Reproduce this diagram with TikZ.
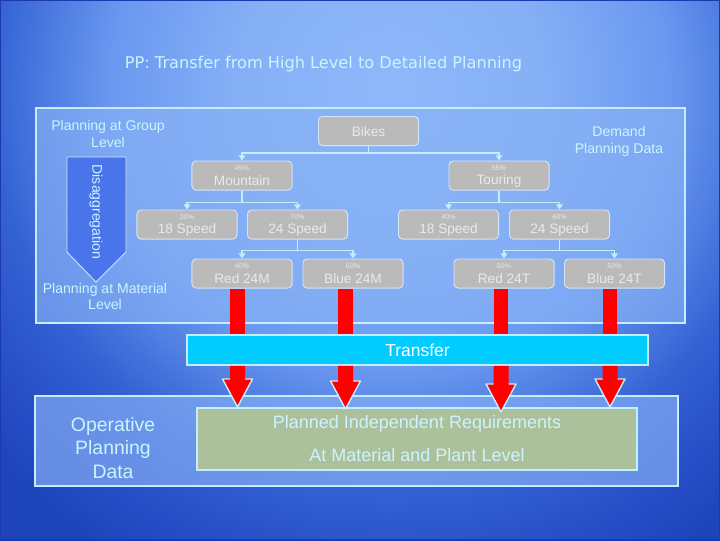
\documentclass[tikz,border=0pt]{standalone}
\usepackage{fontspec}
\setmainfont{Liberation Sans}
\newfontfamily\titlefont{DejaVu Sans}
\usepackage{xcolor}
\usepackage{tikz}
\usetikzlibrary{positioning,calc,arrows.meta}
\definecolor{bgcore}{HTML}{8EB8FA}
\definecolor{bgmid}{HTML}{86B0F6}
\definecolor{bglight}{HTML}{6A98F0}
\definecolor{bglow}{HTML}{3462D4}
\definecolor{bgdeep}{HTML}{2850C8}
\definecolor{bgedge}{HTML}{1E44BC}
\definecolor{slideedge}{HTML}{1A3AAE}
\definecolor{framefill}{HTML}{88B2F6}
\definecolor{framecyan}{HTML}{C4EEFF}
\definecolor{labelcyan}{HTML}{CCF4FF}
\definecolor{boxgray}{HTML}{BABABA}
\definecolor{boxline}{HTML}{D4E6F6}
\definecolor{boxtext}{HTML}{EAEAEA}
\definecolor{disaggblue}{HTML}{4A74EA}
\definecolor{transfercyan}{HTML}{00CCFF}
\definecolor{reqgreen}{HTML}{ADC09C}
\pgfdeclareradialshading{bgglow}{\pgfpoint{0bp}{0bp}}{color(0bp)=(bgcore); color(12.5bp)=(bgmid);
  color(23.3bp)=(bglight); color(33.3bp)=(bglow); color(39.2bp)=(bgdeep); color(45bp)=(bgedge); color(50bp)=(bgedge)}

\begin{document}
\begin{tikzpicture}[
  x=0.025cm, y=-0.025cm,
  frame/.style={draw=framecyan, line width=2.1pt, fill=framefill, fill opacity=0.65},
  partbox/.style={draw=boxline, fill=boxgray, line width=0.7pt, rounded corners=2.8pt,
    minimum width=2.5cm, minimum height=0.725cm, inner sep=0pt},
  pcttext/.style={font=\fontsize{5}{6}\selectfont, text=boxtext, inner sep=0pt},
  parttext/.style={font=\fontsize{9.7}{11}\selectfont, text=boxtext, inner sep=0pt},
  sidetext/.style={font=\fontsize{10}{12}\selectfont, text=labelcyan, align=center},
  link/.style={draw=framecyan, line width=1.4pt, -{Triangle[width=4.6pt,length=3.6pt]}},
  redbar/.style={draw=red, line width=10pt},
  headline/.style={draw=framecyan, line width=1pt, line join=round},
]
\useasboundingbox (0,0) rectangle (720,540);
\begin{scope}
  \clip (0,0) rectangle (720,540);
  \fill[bgedge] (0,0) rectangle (720,540);
  \node[inner sep=0pt, scale=8.5] (glow) at (390,90) {\pgfuseshading{bgglow}};
  \draw[slideedge, line width=1.4pt] (0,0) rectangle (720,540);
\end{scope}

\node[font=\titlefont\fontsize{11.5}{13}\selectfont, text=labelcyan] (title) at (323.5,64)
  {PP: Transfer from High Level to Detailed Planning};

% demand planning frame
\draw[frame] (36,108) rectangle (685,323);
\node[sidetext] (grouplvl) at (108,134) {Planning at Group\\Level};
\node[sidetext] (demand) at (619,141.5) {Demand\\Planning Data};
\node[sidetext] (materiallvl) at (105,296.5) {Planning at Material\\Level};
\draw[draw=boxline, fill=disaggblue, line width=0.6pt]
  (67,157) -- (126,157) -- (126,252) -- (96,282) -- (67,252) -- cycle;
\node[sidetext, rotate=-90] (disagg) at (96,212) {Disaggregation};

% product tree
\node[partbox] (bikes) at (368.5,131) {};
\node[parttext] (bikes-txt) at (368.5,132) {Bikes};
\foreach \nm/\cx/\ty/\pc/\lb in {%
  mountain/242/161/45\%/Mountain, touring/499/161/55\%/Touring,
  m18/187/210/30\%/18 Speed, m24/297.5/210/70\%/24 Speed,
  t18/448.5/210/40\%/18 Speed, t24/559.5/210/60\%/24 Speed,
  r24m/242/259/40\%/Red 24M, b24m/353/259/60\%/Blue 24M,
  r24t/504/259/50\%/Red 24T, b24t/614.5/259/50\%/Blue 24T%
} {
  \node[partbox] (\nm) at (\cx,\ty+14.5) {};
  \node[pcttext] (\nm-pct) at (\cx,\ty+7) {\pc};
  \node[parttext] (\nm-txt) at (\cx,\ty+19.5) {\lb};
}
\draw[link] (bikes.south) -- ++(0,7) -| (mountain.north);
\draw[link] (bikes.south) -- ++(0,7) -| (touring.north);
\draw[link] (mountain.south) -- ++(0,12) -| (m18.north);
\draw[link] (mountain.south) -- ++(0,12) -| (m24.north);
\draw[link] (touring.south) -- ++(0,12) -| (t18.north);
\draw[link] (touring.south) -- ++(0,12) -| (t24.north);
\draw[link] (m24.south) -- ++(0,11) -| (r24m.north);
\draw[link] (m24.south) -- ++(0,11) -| (b24m.north);
\draw[link] (t24.south) -- ++(0,11) -| (r24t.north);
\draw[link] (t24.south) -- ++(0,11) -| (b24t.north);

% operative planning frame
\draw[frame] (35,396) rectangle (678,486);
\node[font=\fontsize{13.8}{17}\selectfont, text=labelcyan, align=center] (operative)
  at (113,448) {Operative\\Planning\\Data};
\node[draw=framecyan, fill=reqgreen, line width=1.4pt, minimum width=11cm,
  minimum height=1.55cm, font=\fontsize{12.8}{23.5}\selectfont, text=labelcyan,
  align=center] (pir) at (417,439) {Planned Independent Requirements\\At Material and Plant Level};

% transfer
\node[draw=framecyan, fill=transfercyan, line width=1.4pt, minimum width=11.525cm,
  minimum height=0.75cm, font=\fontsize{12.4}{14}\selectfont, text=white] (transfer)
  at (417.5,350) {Transfer};
\foreach \src/\dx/\hb in {r24m/-4.5/13, b24m/-7.5/15, r24t/-3/18, b24t/-4.5/13} {
  \coordinate (\src-top) at ($(\src.south)+(\dx,0)$);
  \coordinate (\src-bot) at (\src-top |- transfer.south);
  \draw[redbar] (\src-top) -- (\src-top |- transfer.north);
  \fill[red] (\src-bot) ++(-7.5,0) -- ++(0,\hb) -- ++(-7.5,0) -- ++(15,28)
    -- ++(15,-28) -- ++(-7.5,0) -- ++(0,-\hb) -- cycle;
  \draw[headline] (\src-bot) ++(-7.5,\hb) -- ++(-7.5,0) -- ++(15,28)
    -- ++(15,-28) -- ++(-7.5,0);
}
\end{tikzpicture}
\end{document}
